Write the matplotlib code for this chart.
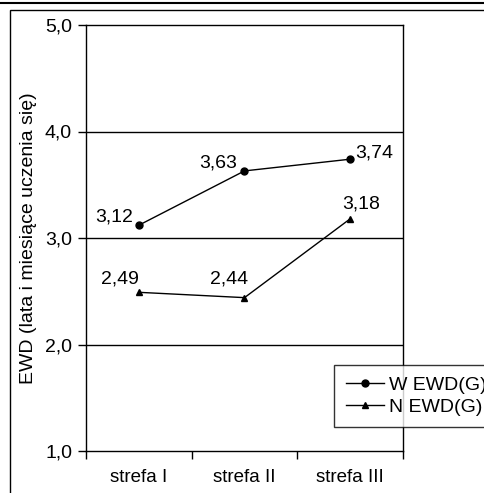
import matplotlib.pyplot as plt
from matplotlib.ticker import FuncFormatter, FixedLocator
from matplotlib.patches import Rectangle
from matplotlib.lines import Line2D

categories = ["strefa I", "strefa II", "strefa III"]
w_values = [3.12, 3.63, 3.74]
n_values = [2.49, 2.44, 3.18]
series_names = ["W EWD(G)", "N EWD(G)"]
y_label = "EWD (lata i miesiące uczenia się)"

plt.rcParams["font.family"] = ["Liberation Sans", "DejaVu Sans"]

fig = plt.figure(figsize=(4.84, 4.93), dpi=100)
ax = fig.add_axes([86 / 484, 1 - 451 / 493, (403 - 86) / 484, (451 - 25) / 493])

x = list(range(len(categories)))
ax.plot(x, w_values, "k-", marker="o", markersize=5, linewidth=1)
ax.plot(x, n_values, "k-", marker="^", markersize=5, linewidth=1)

def fmt(v):
    return f"{v:.2f}".replace(".", ",")

# (dx, dy, ha) in points, baseline alignment
w_off = [(-4.3, 2.9, "right"), (-5, 2.2, "right"), (3.6, 1.4, "left")]
n_off = [(0, 6.5, "right"), (2.9, 10, "right"), (8, 7.2, "center")]
for vals, offs in [(w_values, w_off), (n_values, n_off)]:
    for xi, v, (dx, dy, ha) in zip(x, vals, offs):
        ax.annotate(fmt(v), (xi, v), textcoords="offset points", xytext=(dx, dy),
                    ha=ha, va="baseline", fontsize=14)

ax.set_ylim(1, 5)
ax.set_yticks([1, 2, 3, 4, 5])
ax.yaxis.set_major_formatter(FuncFormatter(lambda v, p: f"{v:.1f}".replace(".", ",")))
ax.set_xlim(-0.5, len(categories) - 0.5)
ax.xaxis.set_major_locator(FixedLocator([i - 0.5 for i in range(len(categories) + 1)]))
ax.xaxis.set_major_formatter(FuncFormatter(lambda v, p: ""))
ax.set_xticks(x, minor=True)
ax.set_xticklabels(categories, minor=True, fontsize=13.5)
ax.tick_params(axis="x", which="minor", length=0, pad=13)
ax.tick_params(axis="x", which="major", length=6, width=1, direction="out")
ax.tick_params(axis="y", length=6, width=1, direction="out", labelsize=14, pad=4)
ax.set_ylabel(y_label, fontsize=14, labelpad=6)

for yv in [2, 3, 4]:
    ax.axhline(yv, color="black", linewidth=1)
for s in ax.spines.values():
    s.set_color("black")
    s.set_linewidth(1)

handles = [
    Line2D([], [], color="black", marker="o", markersize=5, linewidth=1),
    Line2D([], [], color="black", marker="^", markersize=5, linewidth=1),
]
leg = fig.legend(handles, series_names, loc="upper left",
                 bbox_to_anchor=(334 / 484, 1 - 365 / 493), fontsize=14,
                 frameon=True, fancybox=False, edgecolor="black",
                 handlelength=1.95, handletextpad=0.3, borderpad=0.6,
                 labelspacing=0.2, borderaxespad=0)
leg.get_frame().set_linewidth(1)

# outer chart frame and top rule
fig.patches.append(Rectangle((10 / 484, -0.05), 1.1, 1 - 10 / 493 + 0.05,
                             transform=fig.transFigure, fill=False,
                             edgecolor="black", linewidth=1))
fig.lines.append(Line2D([0, 1], [1 - 2.5 / 493, 1 - 2.5 / 493],
                        transform=fig.transFigure, color="black", linewidth=1.5))

fig.savefig("out.png", dpi=100)
